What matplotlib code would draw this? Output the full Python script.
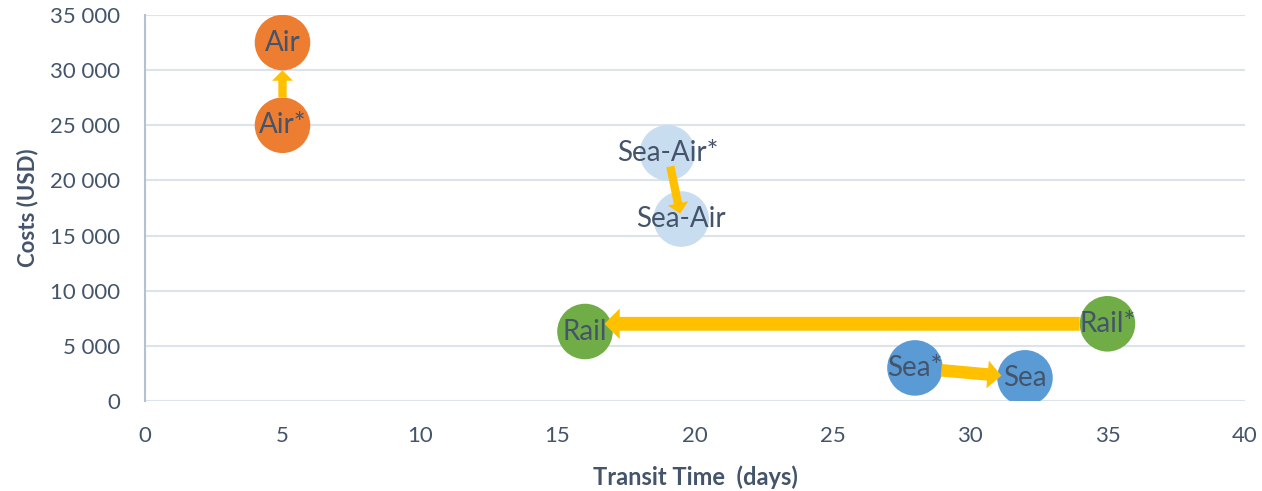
import numpy as np
import matplotlib.pyplot as plt
from matplotlib.ticker import FuncFormatter

# transit time (days) and cost (USD) for each mode, * = alternative option
labels = ['Air', 'Air*', 'Sea-Air*', 'Sea-Air', 'Rail', 'Rail*', 'Sea*', 'Sea']
days = [5, 5, 19, 19.5, 16, 35, 28, 32]
costs = [32500, 25000, 22500, 16500, 6300, 7000, 3000, 2100]

# arrows go from the starred option to the plain one
arrow_from = ['Air*', 'Sea-Air*', 'Rail*', 'Sea*']
arrow_to = ['Air', 'Sea-Air', 'Rail', 'Sea']

orange = '#ED7D31'
green = '#70AD47'
blue = '#5B9BD5'
lightblue = '#C9DDF0'
colors = [orange, orange, lightblue, lightblue, green, green, blue, blue]
txt = '#44546A'

plt.rcParams['font.family'] = ['Lato', 'DejaVu Sans']

fig = plt.figure(figsize=(12.62, 4.91), dpi=100)
ax = fig.add_axes([0.1149, 0.1833, 0.8716, 0.7862])

ax.scatter(days, costs, s=1600, c=colors, zorder=3, linewidths=0)

# arrow settings: shrink at start/end (pt), shaft width, head size
shrink_a = [20, 10, 20, 19]
shrink_b = [20, 4, 14, 17]
tails = [6, 6, 10, 9]
heads = [15, 15, 22, 20]
level = [False, False, True, False]   # rail arrow is drawn flat
for i in range(len(arrow_from)):
    a = labels.index(arrow_from[i])
    b = labels.index(arrow_to[i])
    yb = costs[a] if level[i] else costs[b]
    style = 'simple,tail_width=%g,head_width=%g,head_length=%g' % (tails[i], heads[i], heads[i] * 0.5)
    ax.annotate('', xy=(days[b], yb), xytext=(days[a], costs[a]),
                arrowprops=dict(arrowstyle=style, color='#FFC000', lw=0,
                                shrinkA=shrink_a[i], shrinkB=shrink_b[i],
                                mutation_scale=1),
                zorder=4)

for i in range(len(labels)):
    ax.text(days[i], costs[i], labels[i], ha='center', va='center',
            fontsize=20, color=txt, zorder=5)

ax.set_xlim(0, 40)
ax.set_ylim(0, 35000)
ax.set_xticks(np.arange(0, 41, 5))
ax.set_yticks(np.arange(0, 35001, 5000))
ax.yaxis.set_major_formatter(FuncFormatter(lambda v, p: '{:,.0f}'.format(v).replace(',', ' ')))
ax.tick_params(length=0, labelsize=16, labelcolor=txt)
ax.tick_params(axis='x', pad=18)
ax.tick_params(axis='y', pad=18)
ax.grid(axis='y', color='#DDE3EB', linewidth=1.5)
ax.set_axisbelow(True)
for s in ['top', 'right', 'bottom']:
    ax.spines[s].set_visible(False)
ax.spines['left'].set_color('#B4C0D3')
ax.spines['left'].set_linewidth(1.5)

ax.set_xlabel('Transit Time  (days)', fontsize=17, fontweight='bold', color=txt, labelpad=14)
ax.set_ylabel('Costs (USD)', fontsize=16, fontweight='bold', color=txt, labelpad=8)

plt.savefig('out.png')
